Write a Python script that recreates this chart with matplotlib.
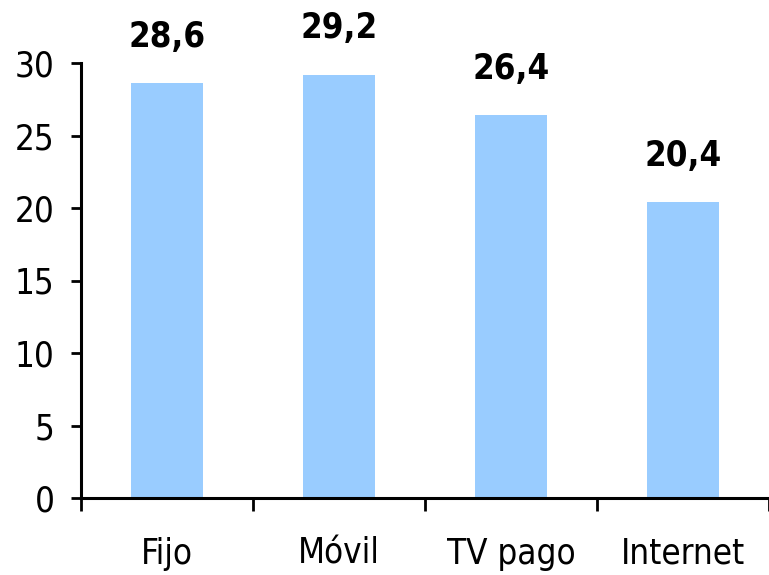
import matplotlib.pyplot as plt
import numpy as np

# datos
categorias = ["Fijo", "Móvil", "TV pago", "Internet"]
valores = [28.6, 29.2, 26.4, 20.4]
etiquetas = ["28,6", "29,2", "26,4", "20,4"]

plt.rcParams['font.family'] = ['DejaVu Sans']
plt.rcParams['font.stretch'] = 'condensed'

fig = plt.figure(figsize=(7.69, 5.75), dpi=100)
ax = fig.add_axes([81/769, 1 - 498/575, 1 - 81/769, (498 - 63)/575])

x = np.arange(len(categorias)) + 0.5
ax.bar(x, valores, width=0.42, color='#99CCFF')

for xi, v, t in zip(x, valores, etiquetas):
    ax.annotate(t, (xi, v), xytext=(0, 21), textcoords='offset points',
                ha='center', va='bottom', fontsize=25, fontweight='bold',
                annotation_clip=False)

ax.set_xlim(0, len(categorias))
ax.set_ylim(0, 30)
ax.set_yticks(range(0, 31, 5))
ax.tick_params(axis='y', labelsize=25, length=7, width=2, pad=12)

# ticks separadores y etiquetas centradas
ax.set_xticks(range(0, len(categorias) + 1))
ax.set_xticklabels([])
ax.set_xticks(x, minor=True)
ax.set_xticklabels(categorias, minor=True)
ax.tick_params(axis='x', which='major', length=9, width=2)
ax.tick_params(axis='x', which='minor', length=0, labelsize=25, pad=28)

for s in ['top', 'right']:
    ax.spines[s].set_visible(False)
for s in ['left', 'bottom']:
    ax.spines[s].set_linewidth(2.2)

fig.savefig('out.png', dpi=100)
